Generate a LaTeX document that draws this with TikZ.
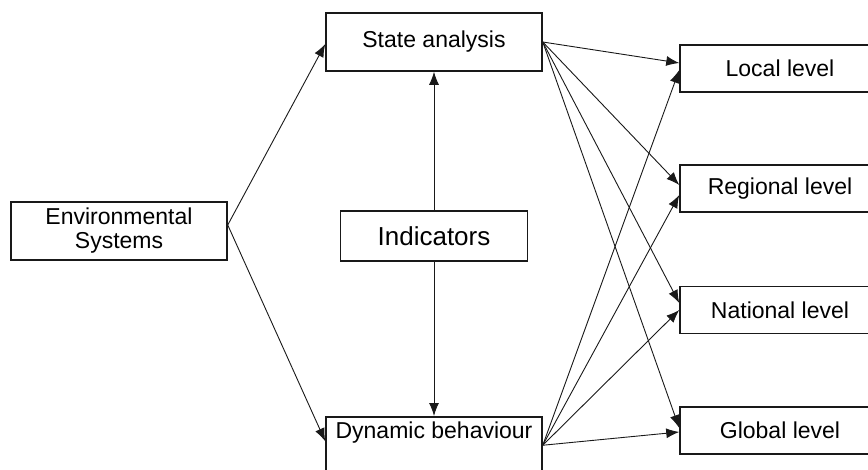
\documentclass[tikz,border=0pt]{standalone}
\usepackage{fontspec}
\setmainfont{Liberation Sans}
\usetikzlibrary{arrows.meta}

\begin{document}
\begin{tikzpicture}[x=1pt, y=-1pt,
    box/.style={draw=black!90, line width=1.5pt, fill=white, align=center,
      font=\fontsize{23}{24}\selectfont, inner sep=0pt},
    levelbox/.style={box, minimum width=200pt, minimum height=47pt},
    arr/.style={-{Latex[length=13pt,width=10pt]}, draw=black!90, line width=0.9pt}]
    \clip (0,0) rectangle (868,469);

    % Lewa strona
    \node[box, minimum width=216pt, minimum height=58pt] (env) at (119, 231) {Environmental\\Systems};

    % Srodek
    \node[box, minimum width=216pt, minimum height=58pt] (state) at (434, 42) {State analysis};

    \node[box, minimum width=187pt, minimum height=50pt,
      font=\fontsize{26}{28}\selectfont] (ind) at (434, 236) {Indicators};

    \node[box, minimum width=216pt, text height=16pt, text depth=29pt,
      inner ysep=6pt, anchor=north] (dyn) at (434, 416) {Dynamic behaviour};

    % Poziomy
    \node[levelbox] (local) at (780, 68.5) {Local level};

    \node[levelbox] (regional) at (780, 188.5) {Regional level};

    \node[levelbox] (national) at (780, 310) {National level};

    \node[levelbox] (global) at (780, 430.5) {Global level};

    % Strzalki z lewej
    \draw[arr] ([yshift=6pt]env.east) -- ([yshift=-2pt]state.west);

    \draw[arr] ([yshift=6pt]env.east) -- ([yshift=4pt]dyn.west);

    % Wskazniki
    \draw[arr] (ind.north) -- (state.south);

    \draw[arr] (ind.south) -- (dyn.north);

    % Ze stanu
    \draw[arr] (state.east) -- ([yshift=5.5pt]local.west);

    \draw[arr] (state.east) -- ([yshift=3.5pt]regional.west);

    \draw[arr] (state.east) -- ([yshift=7pt]national.west);

    \draw[arr] (state.east) -- ([yshift=2.5pt]global.west);

    % Z dynamiki
    \draw[arr] (dyn.east) -- ([yshift=-1.5pt]local.west);

    \draw[arr] (dyn.east) -- ([yshift=-6.5pt]regional.west);

    \draw[arr] (dyn.east) -- (national.west);

    \draw[arr] (dyn.east) -- ([yshift=-1.5pt]global.west);
  \end{tikzpicture}
\end{document}
